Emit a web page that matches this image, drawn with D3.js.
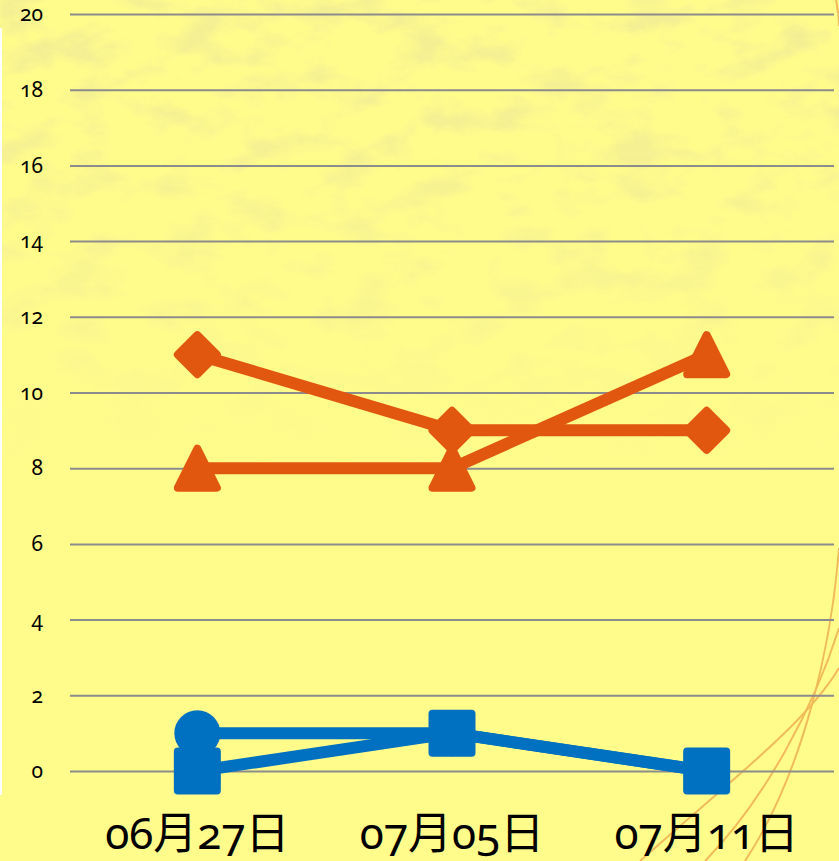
<!DOCTYPE html>
<html>
<head>
<meta charset="utf-8">
<script src="https://cdn.jsdelivr.net/npm/d3@7"></script>
<style>
  html, body { margin: 0; padding: 0; background: #fff; }
  svg { display: block; }
  .num { font-family: "Noto Sans", "Noto Sans CJK SC", sans-serif; font-feature-settings: "onum" 1; font-variant-numeric: oldstyle-nums; }
  .ylab { font-size: 21px; }
</style>
</head>
<body>
<div id="chart"></div>
<script>
// data
const categories = ["06月27日", "07月05日", "07月11日"];
const yTicks = [0, 2, 4, 6, 8, 10, 12, 14, 16, 18, 20];
const orangeDiamond = [11, 9, 9];
const orangeTriangle = [8, 8, 11];
const blueCircle = [1, 1, 0];
const blueSquare = [0, 1, 0];

const series = [
  {name: "blueCircle", values: blueCircle, color: "#0070c0", shape: "circle"},
  {name: "blueSquare", values: blueSquare, color: "#0070c0", shape: "square"},
  {name: "orangeTriangle", values: orangeTriangle, color: "#e2570f", shape: "triangle"},
  {name: "orangeDiamond", values: orangeDiamond, color: "#e2570f", shape: "diamond"}
];

const width = 839, height = 861;
const svg = d3.select("#chart").append("svg")
  .attr("width", width)
  .attr("height", height);

const defs = svg.append("defs");

// paper texture at the top
const filt = defs.append("filter").attr("id", "paper")
  .attr("x", 0).attr("y", 0).attr("width", "100%").attr("height", "100%");
filt.append("feTurbulence")
  .attr("type", "fractalNoise")
  .attr("baseFrequency", "0.018 0.03")
  .attr("numOctaves", 6)
  .attr("seed", 11)
  .attr("result", "noise");
filt.append("feColorMatrix")
  .attr("in", "noise")
  .attr("type", "matrix")
  .attr("values", "0 0 0 0 0.82  0 0 0 0 0.78  0 0 0 0 0.32  3.2 0 0 0 -1.5")
  .attr("result", "spots");
filt.append("feComposite").attr("in", "spots").attr("in2", "SourceGraphic").attr("operator", "in");

const fade = defs.append("linearGradient").attr("id", "fade")
  .attr("x1", 0).attr("y1", 0).attr("x2", 0).attr("y2", 1);
fade.append("stop").attr("offset", "0").attr("stop-color", "#fff").attr("stop-opacity", 1);
fade.append("stop").attr("offset", "0.25").attr("stop-color", "#fff").attr("stop-opacity", 0.7);
fade.append("stop").attr("offset", "0.55").attr("stop-color", "#fff").attr("stop-opacity", 0);
const mask = defs.append("mask").attr("id", "fadeMask");
mask.append("rect").attr("width", width).attr("height", height).attr("fill", "url(#fade)");

svg.append("rect").attr("width", width).attr("height", height).attr("fill", "#fffc8c");
svg.append("rect").attr("width", width).attr("height", height)
  .attr("fill", "#fff").attr("filter", "url(#paper)").attr("mask", "url(#fadeMask)")
  .attr("opacity", 0.6);

// thin white strip on the left edge
svg.append("rect").attr("x", 0).attr("y", 28).attr("width", 2).attr("height", 767).attr("fill", "#fff");

// decorative orange curves, bottom right
const deco = svg.append("g").attr("fill", "none").attr("stroke", "#eea64a")
  .attr("stroke-width", 2).attr("opacity", 0.75);
deco.append("path").attr("d", "M839,548 C832,640 805,770 745,861");
deco.append("path").attr("d", "M839,668 C805,725 725,785 640,861");
deco.append("path").attr("d", "M839,628 C815,705 765,800 705,861");
deco.append("path").attr("d", "M836,0 C838,10 839,20 839,26");

// scales
const x = d3.scalePoint().domain(categories).range([70, 834]).padding(0.5);
const y = d3.scaleLinear().domain([0, 20]).range([771, 14]);

// gridlines + y labels
const yAxis = svg.append("g")
  .attr("transform", "translate(70,0)")
  .call(d3.axisLeft(y).tickValues(yTicks).tickSize(-764).tickPadding(27).tickFormat(d3.format("d")));
yAxis.attr("font-size", 21).attr("font-family", null);
yAxis.select(".domain").remove();
yAxis.selectAll(".tick line").attr("stroke", "#8c8c8c").attr("stroke-width", 2);
yAxis.selectAll(".tick text")
  .attr("class", "num ylab")
  .attr("fill", "#000");

// x labels
svg.append("g").selectAll("text")
  .data(categories)
  .join("text")
  .attr("class", "num")
  .attr("x", d => x(d))
  .attr("y", 849)
  .attr("text-anchor", "middle")
  .style("font-size", "44px")
  .attr("fill", "#000")
  .text(d => d);

// lines and markers
const lineGen = d3.line()
  .x((d, i) => x(categories[i]))
  .y(d => y(d));

function shapePath(shape) {
  const h = 19.5;
  if (shape === "square") return `M${-h},${-h}L${h},${-h}L${h},${h}L${-h},${h}Z`;
  if (shape === "diamond") return `M0,${-h}L${h},0L0,${h}L${-h},0Z`;
  if (shape === "triangle") return `M0,${-h}L${h},${h}L${-h},${h}Z`;
  return null;
}

const plot = svg.append("g");
series.forEach(s => {
  const g = plot.append("g");
  g.append("path")
    .datum(s.values)
    .attr("d", lineGen)
    .attr("fill", "none")
    .attr("stroke", s.color)
    .attr("stroke-width", 12)
    .attr("stroke-linejoin", "round");
  const pts = g.selectAll(".pt")
    .data(s.values)
    .join("g")
    .attr("transform", (d, i) => `translate(${x(categories[i])},${y(d)})`);
  if (s.shape === "circle") {
    pts.append("circle").attr("r", 23).attr("fill", s.color);
  } else {
    pts.append("path")
      .attr("d", shapePath(s.shape))
      .attr("fill", s.color)
      .attr("stroke", s.color)
      .attr("stroke-width", 8)
      .attr("stroke-linejoin", "round");
  }
});
</script>
</body>
</html>
